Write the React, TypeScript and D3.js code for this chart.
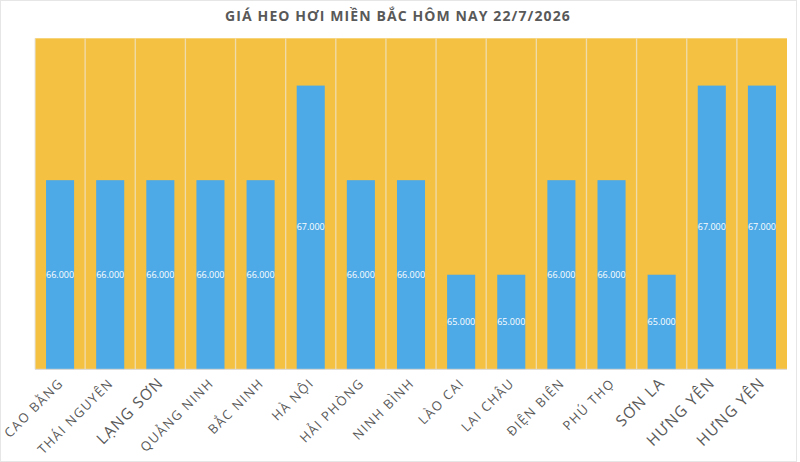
import React from "react";
import * as d3 from "d3";

const categories = ["CAO BẰNG","THÁI NGUYÊN","LẠNG SƠN","QUẢNG NINH","BẮC NINH","HÀ NỘI","HẢI PHÒNG","NINH BÌNH","LÀO CAI","LAI CHÂU","ĐIỆN BIÊN","PHÚ THỌ","SƠN LA","HƯNG YÊN","HƯNG YÊN"];
const values = [66000,66000,66000,66000,66000,67000,66000,66000,65000,65000,66000,66000,65000,67000,67000];
const largeLabels = ["LẠNG SƠN","SƠN LA","HƯNG YÊN"];
const title = "GIÁ HEO HƠI MIỀN BẮC HÔM NAY 22/7/2026";

const W = 800, H = 462;
const left = 35, right = 787, top = 38.3, bottom = 369.3;

export default function App() {
  const x = d3.scaleBand<number>().domain(d3.range(categories.length)).range([left, right]).padding(0);
  const y = d3.scaleLinear().domain([64000, 67500]).range([bottom, top]);
  const bw = x.bandwidth();
  const barW = bw * 0.56;
  const fmt = (v: number) => d3.format(",")(v).replace(/,/g, ".");
  return (
    <svg width={W} height={H} style={{ position: "absolute", left: 0, top: 0, background: "#fff" }}>
      <rect x={0.5} y={0.5} width={W - 4} height={H - 1} fill="#fff" stroke="#e6e6e6" />
      <text x={398} y={21} textAnchor="middle" fontFamily="'Open Sans', sans-serif" fontWeight="bold" fontSize={14} fill="#595959" letterSpacing={1.1}>{title}</text>
      <rect x={left} y={top} width={right - left} height={bottom - top} fill="#F4C142" />
      {categories.map((c, i) => (
        <g key={i}>
          {i > 0 && <line x1={x(i)!} x2={x(i)!} y1={top} y2={bottom} stroke="#EFDCAC" strokeWidth={1.3} />}
          <rect x={x(i)! + (bw - barW) / 2} y={y(values[i])} width={barW} height={bottom - y(values[i])} fill="#4EAAE6" />
          <text x={x(i)! + bw / 2} y={(y(values[i]) + bottom) / 2 + 3} textAnchor="middle" fontFamily="'Open Sans', sans-serif" fontSize={9} fill="#fff">{fmt(values[i])}</text>
        </g>
      ))}
      <line x1={left} x2={right} y1={bottom} y2={bottom} stroke="#d9d9d9" />
      <line x1={left} x2={left} y1={top} y2={bottom} stroke="#e3e3e3" />
      {categories.map((c, i) => {
        const cx = x(i)! + bw / 2 + 4;
        const cy = 384;
        const big = largeLabels.includes(c);
        return (
          <text key={"l" + i} x={cx} y={cy} transform={`rotate(-45 ${cx} ${cy})`} textAnchor="end" fontFamily="'Open Sans', sans-serif" fontSize={big ? 15.5 : 13} letterSpacing={big ? 1.2 : 1.4} fill="#595959">{c}</text>
        );
      })}
    </svg>
  );
}
